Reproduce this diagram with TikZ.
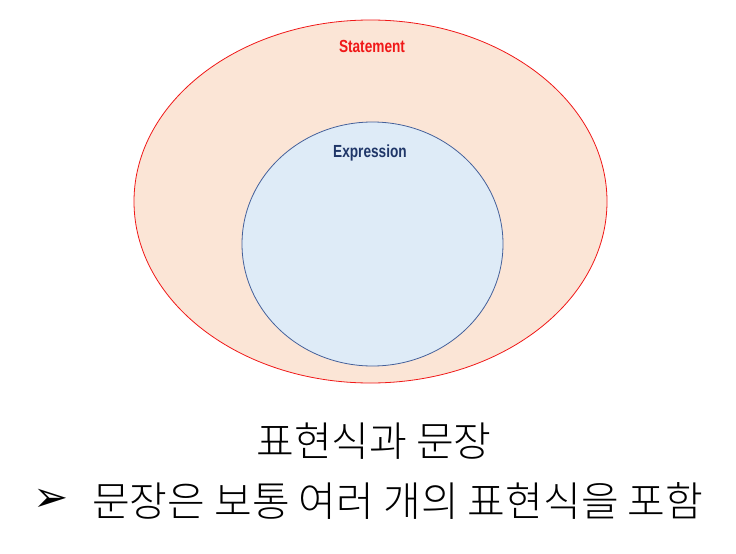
\documentclass[tikz,border=0pt]{standalone}
\usepackage{fontspec}
\newfontfamily\cjk{Noto Sans CJK KR}[UprightFont={* Light}]
\newfontfamily\labelfont{Liberation Sans}[FakeStretch=0.78]
\newfontfamily\symfont{DejaVu Sans}
\definecolor{stmtred}{HTML}{F01818}
\definecolor{stmtfill}{HTML}{FBE5D6}
\definecolor{exprblue}{HTML}{44609A}
\definecolor{exprfill}{HTML}{DEEBF7}
\definecolor{exprtext}{HTML}{1F3668}

\begin{document}
\begin{tikzpicture}[x=1pt, y=-1pt,
	setlabel/.style={inner sep=0, font=\labelfont\bfseries\fontsize{17.5}{19}\selectfont},
	caption/.style={inner sep=0, font=\cjk\fontsize{41}{46}\selectfont}]
	\useasboundingbox (0,0) rectangle (736,554);
	\draw[stmtred, fill=stmtfill, line width=0.8pt] (370.5,201.5) ellipse [x radius=236.5, y radius=181.5]; 
	\draw[exprblue, fill=exprfill, line width=0.8pt] (372.5,244) ellipse [x radius=130.5, y radius=122]; 
	\node[setlabel, text=stmtred] (statement) at (372,46) {Statement};
	\node[setlabel, text=exprtext] (expression) at (370,153) {Expression};
	\node[caption] (title) at (374,441) {표현식과 문장};
	\node[inner sep=0, font=\symfont\fontsize{42}{44}\selectfont] (bullet) at (51,500) {➢};
	\node[caption, anchor=west] (note) at (92,501) {문장은 보통 여러 개의 표현식을 포함};
\end{tikzpicture}
\end{document}
